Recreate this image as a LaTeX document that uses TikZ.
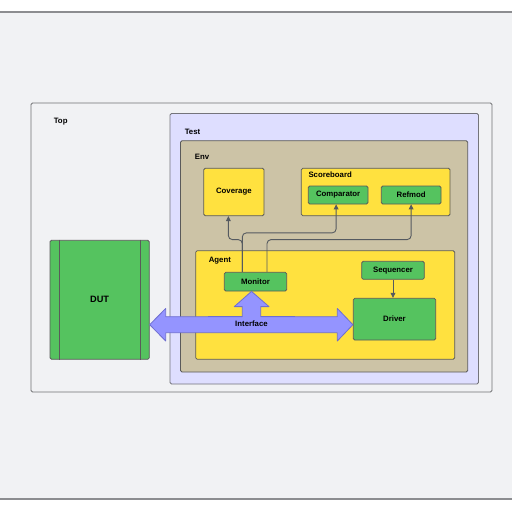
\documentclass[tikz,border=0pt]{standalone}
\usepackage{fontspec}
\setmainfont{Liberation Sans}
\usetikzlibrary{calc,arrows.meta}
\definecolor{bggray}{HTML}{F1F2F4}
\definecolor{framegray}{HTML}{8C8D90}
\definecolor{boxline}{HTML}{5A5A5A}
\definecolor{testfill}{HTML}{DEDEFF}
\definecolor{envfill}{HTML}{CCC3A6}
\definecolor{boxyellow}{HTML}{FFE13F}
\definecolor{boxgreen}{HTML}{55C35F}
\definecolor{ifacefill}{HTML}{9494FF}
\definecolor{ifaceline}{HTML}{6E6ED0}
\definecolor{linkgray}{HTML}{555A60}
\tikzset{
  box/.style={draw=boxline, line width=0.8pt, rounded corners=1.5pt, inner sep=0pt,
    font=\fontsize{7.8}{9}\selectfont\bfseries},
  yellowbox/.style={box, fill=boxyellow},
  greenbox/.style={box, fill=boxgreen},
  tag/.style={anchor=west, inner sep=0pt, font=\fontsize{7.8}{9}\selectfont\bfseries},
  link/.style={draw=linkgray, line width=0.9pt, rounded corners=4pt,
    -{Triangle[length=5pt,width=4.8pt]}},
  iface/.style={draw=ifaceline, fill=ifacefill, line width=0.8pt, line join=round}
}
\begin{document}
\begin{tikzpicture}[x=1pt,y=-1pt]
		%%%%% START %%%%%
		\useasboundingbox (0,0) rectangle (512,512);
		\fill[white] (0,0) rectangle (512,512);
		\fill[bggray] (0,12) rectangle (512,499);
		\draw[framegray, line width=1.2pt] (0,12) -- (512,12);
		\draw[framegray, line width=1.2pt] (0,499) -- (512,499);
		
		% containers
		\node[box, fill=bggray, draw=framegray!80!black, minimum width=461pt, minimum height=289pt] (top) at (261.5,247.5) {};
		\node[box, fill=testfill, draw=boxline!80!testfill, minimum width=308.5pt, minimum height=270.5pt] (test) at (324.25,248.75) {};
		\node[box, fill=envfill, minimum width=287.2pt, minimum height=231.3pt] (env) at (324.1,256.35) {};
		\node[yellowbox, minimum width=148.7pt, minimum height=47.4pt] (scoreboard) at (375.65,192) {};
		\node[yellowbox, minimum width=259pt, minimum height=108.6pt] (agent) at (325.2,305) {};
		
		\node[tag] (toptag) at ([shift={(23,19.5)}]top.north west) {Top};
		\node[tag] (testtag) at ([shift={(15,18.5)}]test.north west) {Test};
		\node[tag] (envtag) at ([shift={(14.5,16.5)}]env.north west) {Env};
		\node[tag] (sbtag) at ([shift={(7.4,6.8)}]scoreboard.north west) {Scoreboard};
		\node[tag] (agenttag) at ([shift={(13.3,10.8)}]agent.north west) {Agent};
		
		% components
		\node[yellowbox, minimum width=60.3pt, minimum height=47.4pt] (coverage) at (233.85,192) {Coverage};
		\node[greenbox, minimum width=59.7pt, minimum height=18pt] (comparator) at (338.15,195) {Comparator};
		\node[greenbox, minimum width=59.7pt, minimum height=18pt] (refmod) at (411.15,195) {Refmod};
		\node[greenbox, minimum width=62.4pt, minimum height=18.7pt] (monitor) at (255.5,281.65) {Monitor};
		\node[greenbox, minimum width=62.6pt, minimum height=18pt] (sequencer) at (393,270.3) {Sequencer};
		\node[greenbox, minimum width=82.4pt, minimum height=41.7pt] (driver) at (394.5,319.15) {Driver};
		\node[greenbox, minimum width=99.3pt, minimum height=119pt, font=\fontsize{9.2}{11}\selectfont\bfseries] (dut) at (99.65,299.8) {DUT};
		\draw[boxline, line width=0.8pt] ([xshift=9.7pt]dut.north west) -- ([xshift=9.7pt]dut.south west);
		\draw[boxline, line width=0.8pt] ([xshift=-9.6pt]dut.north east) -- ([xshift=-9.6pt]dut.south east);
		
		% interface
		\coordinate (ifc) at (251.5,324.7);
		\coordinate (ifL) at (dut.east |- ifc);
		\coordinate (ifR) at (driver.west |- ifc);
		\coordinate (ifU) at ([xshift=-4pt]monitor.south);
		\draw[iface] (ifL) -- ($(ifL)+(16,-16.3)$) -- ($(ifL)+(16,-8)$)
			-- ($(ifU)+(-9.2,25.2)$) -- ($(ifU)+(-9.2,15.2)$) -- ($(ifU)+(-17.2,15.2)$)
			-- (ifU) -- ($(ifU)+(17.5,15.2)$) -- ($(ifU)+(9.2,15.2)$) -- ($(ifU)+(9.2,25.2)$)
			-- ($(ifR)+(-15.6,-8)$) -- ($(ifR)+(-15.6,-16.3)$) -- (ifR)
			-- ($(ifR)+(-15.6,16.3)$) -- ($(ifR)+(-15.6,8)$)
			-- ($(ifL)+(16,8)$) -- ($(ifL)+(16,16.3)$) -- cycle;
		\node[tag, anchor=center] (ifacetag) at ([yshift=0.5pt]ifc) {Interface};
		
		% links
		\draw[link] ([xshift=-13.2pt]monitor.north) -- ++(0,-32.3) -| ([xshift=-5.5pt]coverage.south);
		\draw[link] ([xshift=-13.2pt]monitor.north) -- ++(0,-39) -| ([xshift=-2pt]comparator.south);
		\draw[link] ([xshift=11.5pt]monitor.north) -- ++(0,-32.3) -| (refmod.south);
		\draw[link] (sequencer.south) -- (sequencer.south |- driver.north);
		
		%%%%% END %%%%%
\end{tikzpicture}
\end{document}
